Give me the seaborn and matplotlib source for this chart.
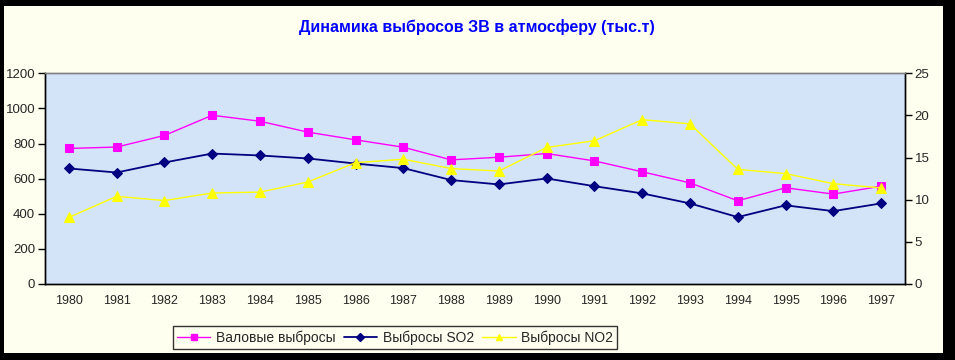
import matplotlib
matplotlib.use("Agg")
import matplotlib.pyplot as plt
from matplotlib.patches import Rectangle
from matplotlib.lines import Line2D
import seaborn as sns
import pandas as pd

years = [str(y) for y in range(1980, 1998)]
gross = [772, 780, 846, 961, 927, 865, 821, 779, 707, 722, 743, 701, 639, 576, 474, 548, 512, 557]
so2 = [658, 635, 692, 743, 732, 715, 686, 660, 592, 567, 601, 557, 516, 459, 381, 448, 415, 459]
no2 = [7.9, 10.4, 9.9, 10.8, 10.9, 12.1, 14.4, 14.8, 13.7, 13.4, 16.2, 17.0, 19.5, 19.0, 13.6, 13.1, 11.9, 11.4]

labels = ["Валовые выбросы", "Выбросы SO2", "Выбросы NO2"]
colors = ["#FF00FF", "#000080", "#FFFF00"]

df = pd.DataFrame({"year": years, "gross": gross, "so2": so2, "no2": no2})

sns.set_style("white")
plt.rcParams["font.family"] = ["Liberation Sans", "DejaVu Sans"]

fig = plt.figure(figsize=(9.55, 3.6), dpi=100, facecolor="black")
fig.patches.append(Rectangle((4 / 955, 1 - 353 / 360), 939 / 955, 347 / 360,
                             transform=fig.transFigure, facecolor="#FFFFF0",
                             edgecolor="none", zorder=-10))

ax = fig.add_axes([45 / 955, 1 - 284 / 360, 860 / 955, 210.7 / 360])
ax.set_facecolor("#D3E4F8")
ax2 = ax.twinx()

sns.lineplot(data=df, x="year", y="gross", ax=ax, color=colors[0], lw=1.0,
             marker="s", markersize=6, markeredgecolor=colors[0], sort=False)
sns.lineplot(data=df, x="year", y="so2", ax=ax, color=colors[1], lw=1.3,
             marker="D", markersize=5, markeredgecolor=colors[1], sort=False)
sns.lineplot(data=df, x="year", y="no2", ax=ax2, color=colors[2], lw=1.0,
             marker="^", markersize=7, markeredgecolor=colors[2], sort=False)

ax.set_xlim(-0.5, len(years) - 0.5)
ax.set_ylim(0, 1200)
ax.set_yticks(range(0, 1201, 200))
ax2.set_ylim(0, 25)
ax2.set_yticks(range(0, 26, 5))

ax.set_xticks(range(len(years)))
ax.set_xticklabels(years)
ax.set_xticks([i - 0.5 for i in range(len(years) + 1)], minor=True)
ax.tick_params(axis="x", which="major", length=0, pad=8, labelsize=9)
ax.tick_params(axis="x", which="minor", length=5, width=1, color="black", direction="out")
ax.tick_params(axis="y", length=5, width=1, color="black", direction="out", labelsize=9.5, pad=2)
ax2.tick_params(axis="y", length=5, width=1, color="black", direction="out", labelsize=9.5, pad=2)
ax.set_xlabel("")
ax.set_ylabel("")
ax2.set_ylabel("")

for a in (ax, ax2):
    for side in ("left", "bottom", "right"):
        a.spines[side].set_color("black")
        a.spines[side].set_linewidth(1)
    a.spines["top"].set_color("#808080")
    a.spines["top"].set_linewidth(1)

fig.text(0.4995, 1 - 27 / 360, "Динамика выбросов ЗВ в атмосферу (тыс.т)",
         ha="center", va="center", color="#0000FF", fontsize=11.5, fontweight="bold")

handles = [
    Line2D([], [], color=colors[0], lw=1.0, marker="s", markersize=5),
    Line2D([], [], color=colors[1], lw=1.3, marker="D", markersize=4),
    Line2D([], [], color=colors[2], lw=1.0, marker="^", markersize=5),
]
leg = fig.legend(handles, labels, loc="center", bbox_to_anchor=(395 / 955, 1 - 337.5 / 360),
                 ncol=3, frameon=True, fancybox=False, fontsize=10, handlelength=2.4,
                 columnspacing=0.6, handletextpad=0.4, borderpad=0.3)
leg.get_frame().set_edgecolor("black")
leg.get_frame().set_facecolor("#FFFFF0")
leg.get_frame().set_linewidth(1)

fig.savefig("out.png", dpi=100, facecolor="black")
